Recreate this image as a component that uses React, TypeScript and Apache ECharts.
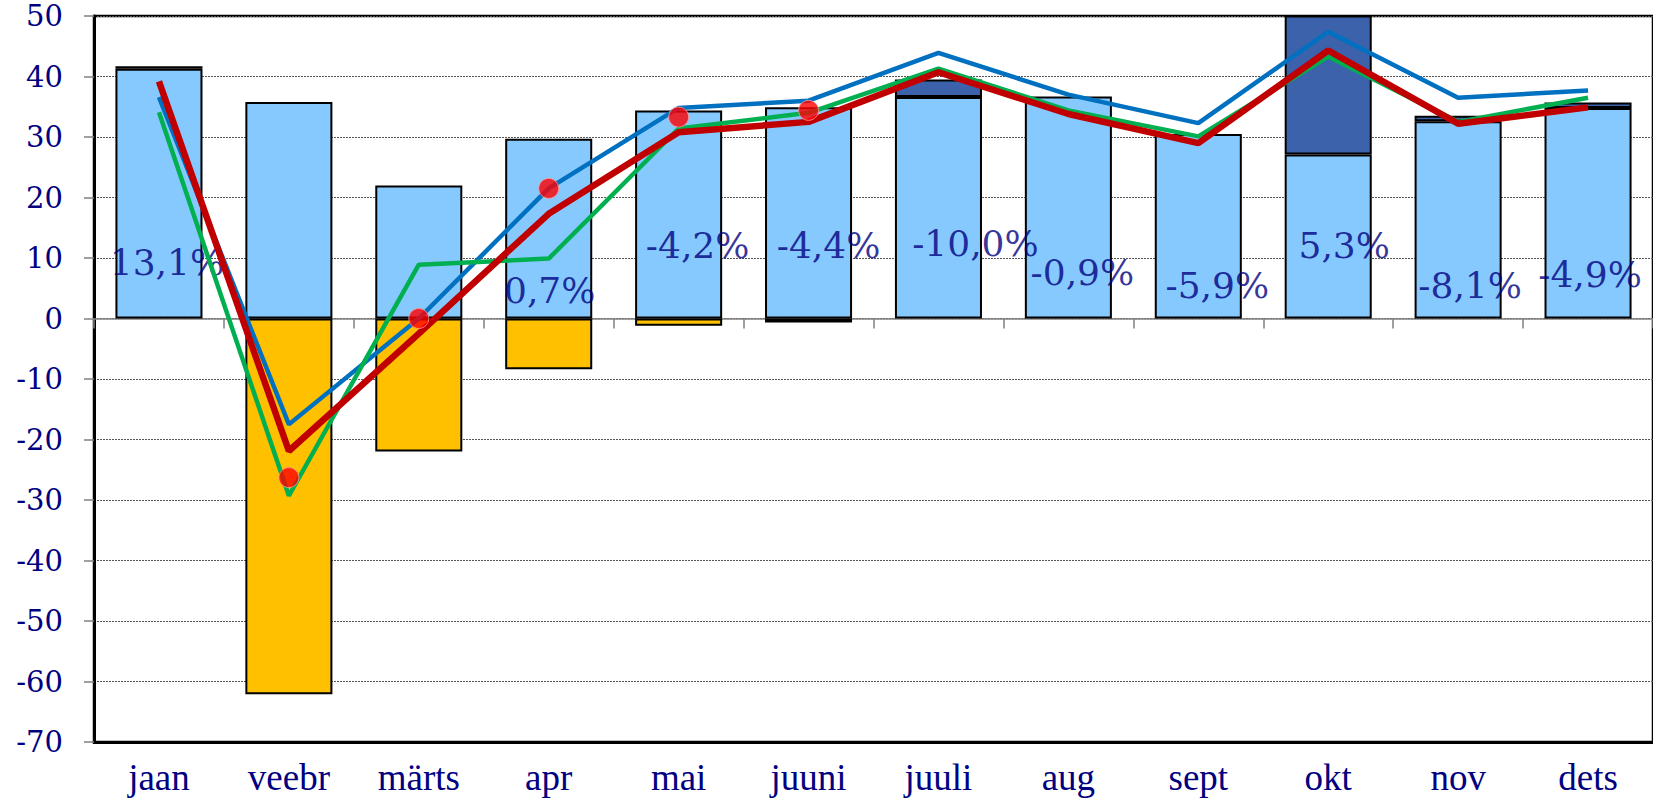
import React, { useEffect, useRef } from "react";
import * as echarts from "echarts";

const months = ["jaan", "veebr", "märts", "apr", "mai", "juuni", "juuli", "aug", "sept", "okt", "nov", "dets"];
const yTicks = { min: -70, max: 50, step: 10 };

const lightBlueBars = [41.3, 35.8, 22.0, 29.7, 34.4, 34.9, 36.6, 36.7, 30.5, 27.1, 32.6, 34.8];
const darkBlueBars: (number | string)[] = [0.4, "-", "-", "-", "-", "-", 2.9, "-", "-", 23, 0.9, 0.9];
const orangeBars: (number | string)[] = ["-", -62.1, -22.0, -8.4, -1.2, -0.65, "-", "-", "-", "-", "-", "-"];

const blueLine = [36.6, -17.5, 0.0, 21.5, 34.8, 36.0, 43.9, 37.0, 32.3, 47.4, 36.5, 37.7];
const greenLine = [34.1, -29.3, 8.9, 9.9, 31.4, 34.0, 41.3, 34.4, 30.1, 43.3, 32.5, 36.5];
const redLine = [39.2, -21.9, -2.5, 17.3, 30.8, 32.5, 40.7, 33.8, 29.0, 44.3, 32.2, 34.9];
const redDots: (number | string)[] = ["-", -26.3, 0, 21.5, 33.3, 34.4, "-", "-", "-", "-", "-", "-"];

const pctLabels = ["13,1%", "", "", "0,7%", "-4,2%", "-4,4%", "-10,0%", "-0,9%", "-5,9%", "5,3%", "-8,1%", "-4,9%"];
const pctLabelLevel: (number | null)[] = [9.3, null, null, 4.6, 12.1, 12.0, 12.4, 7.6, 5.4, 12.0, 5.4, 7.2];

// layout-only: horizontal nudges of the percentage labels (px)
const pctLabelDx = [8, 0, 0, 1, 19, 20, 37, 14, 19, 16, 12, 2];

const NAVY = "#000080";

export default function App() {
  const ref = useRef<HTMLDivElement>(null);

  useEffect(() => {
    if (!ref.current) return;
    const chart = echarts.init(ref.current, null, { renderer: "svg" });

    const labelData = pctLabelLevel
      .map((lv, i) =>
        lv == null
          ? null
          : {
              value: [i, lv],
              label: { formatter: pctLabels[i], offset: [pctLabelDx[i], 0] },
            }
      )
      .filter((d) => d !== null);

    const option: any = {
      animation: false,
      backgroundColor: "#ffffff",
      grid: {
        left: 94,
        top: 16,
        bottom: 62,
        right: -12,
        show: true,
        borderColor: "#000000",
        borderWidth: 2.5,
        backgroundColor: "transparent",
      },
      xAxis: [
        {
          type: "category",
          data: months,
          position: "top",
          axisLine: { onZero: true, lineStyle: { color: "#808080", width: 1.5 } },
          axisTick: { show: true, inside: true, length: 10, lineStyle: { color: "#808080", width: 1.5 } },
          axisLabel: { show: false },
          splitLine: { show: false },
        },
        {
          type: "category",
          data: months,
          position: "bottom",
          axisLine: { onZero: false, lineStyle: { color: "#000000", width: 3 } },
          axisTick: { show: false },
          axisLabel: {
            show: true,
            color: NAVY,
            fontFamily: "Liberation Serif",
            fontSize: 37,
            margin: 17,
          },
          splitLine: { show: false },
        },
      ],
      yAxis: {
        type: "value",
        min: yTicks.min,
        max: yTicks.max,
        interval: yTicks.step,
        axisLine: { show: true, onZero: false, lineStyle: { color: "#000000", width: 3 } },
        axisTick: { show: true, length: 10, lineStyle: { color: "#808080", width: 1.5 } },
        axisLabel: {
          color: NAVY,
          fontFamily: "DejaVu Serif",
          fontSize: 29,
          lineHeight: 29,
          margin: 31,
        },
        splitLine: { show: true, lineStyle: { color: "#555555", type: [2, 1], width: 1 } },
      },
      series: [
        {
          type: "bar",
          xAxisIndex: 1,
          stack: "total",
          barWidth: "67%",
          clip: true,
          data: lightBlueBars,
          itemStyle: { color: "#86C9FF", borderColor: "#000000", borderWidth: 2 },
        },
        {
          type: "bar",
          xAxisIndex: 1,
          stack: "total",
          barWidth: "67%",
          clip: true,
          data: darkBlueBars,
          itemStyle: { color: "#3B62AA", borderColor: "#000000", borderWidth: 2 },
        },
        {
          type: "bar",
          xAxisIndex: 1,
          stack: "total",
          barWidth: "67%",
          clip: true,
          data: orangeBars,
          itemStyle: { color: "#FFC000", borderColor: "#000000", borderWidth: 2 },
        },
        {
          type: "scatter",
          xAxisIndex: 1,
          data: labelData,
          symbolSize: 0,
          z: 3,
          label: {
            show: true,
            position: "inside",
            color: NAVY,
            fontFamily: "DejaVu Serif",
            fontSize: 36,
          },
        },
        {
          type: "line",
          xAxisIndex: 1,
          data: blueLine,
          symbol: "none",
          z: 4,
          lineStyle: { color: "#0070C0", width: 4.5 },
        },
        {
          type: "line",
          xAxisIndex: 1,
          data: greenLine,
          symbol: "none",
          z: 4,
          lineStyle: { color: "#00B050", width: 4.5 },
        },
        {
          type: "line",
          xAxisIndex: 1,
          data: redLine,
          symbol: "none",
          z: 4,
          lineStyle: { color: "#C00000", width: 6.5 },
        },
        {
          type: "scatter",
          xAxisIndex: 1,
          data: redDots,
          symbol: "circle",
          symbolSize: 20,
          z: 5,
          itemStyle: { color: "#FF0000", borderColor: "#FF9A9A", borderWidth: 1 },
        },
      ],
    };

    chart.setOption(option);
    return () => chart.dispose();
  }, []);

  return (
    <div
      ref={ref}
      style={{ position: "absolute", left: 0, top: 0, width: 1653, height: 804, background: "#fff" }}
    />
  );
}
